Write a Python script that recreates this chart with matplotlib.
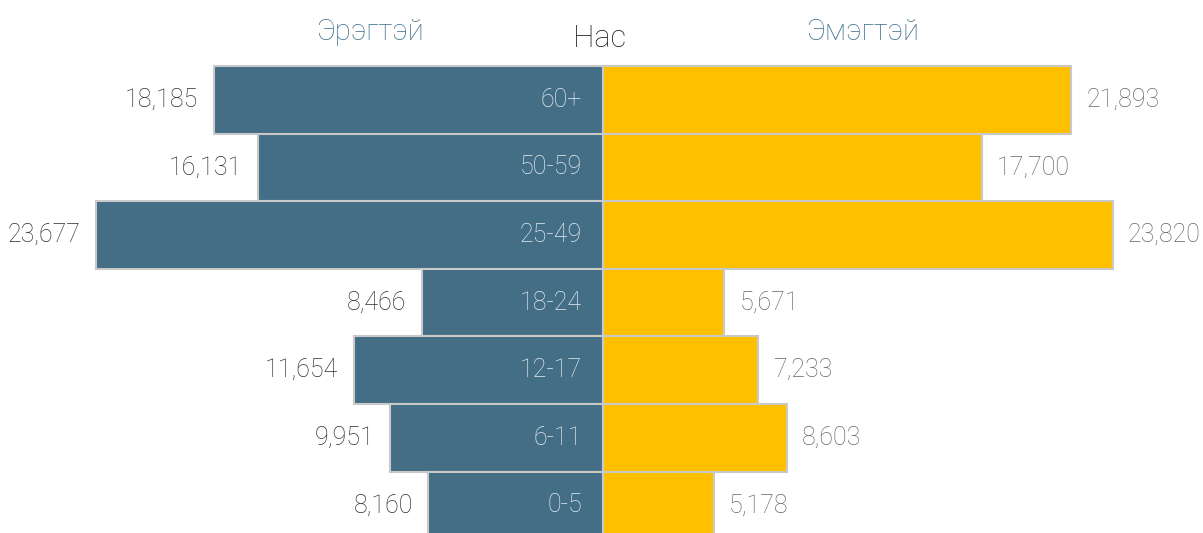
import matplotlib.pyplot as plt

age_groups = ['60+', '50-59', '25-49', '18-24', '12-17', '6-11', '0-5']
male = [18185, 16131, 23677, 8466, 11654, 9951, 8160]
female = [21893, 17700, 23820, 5671, 7233, 8603, 5178]

plt.rcParams['font.family'] = ['Roboto', 'DejaVu Sans']

fig = plt.figure(figsize=(12.03, 5.33), dpi=100)
ax = fig.add_axes([0, 0, 1, 1])

rows = list(range(len(age_groups)))
ax.barh(rows, [-m for m in male], height=1.0, color='#436e86',
        edgecolor='#c9c9c9', linewidth=1.5)
ax.barh(rows, female, height=1.0, color='#ffc000',
        edgecolor='#c9c9c9', linewidth=1.5)

for i in rows:
    ax.text(-male[i] - 720, i, f'{male[i]:,}', ha='right', va='center',
            fontsize=18, color='#2e2e2e', fontweight='light')
    ax.text(female[i] + 700, i, f'{female[i]:,}', ha='left', va='center',
            fontsize=18, color='#666666', fontweight='light')
    ax.text(-980, i, age_groups[i], ha='right', va='center',
            fontsize=18, color='#e6edf1', fontweight='light')

ax.text(-10900, -1.0, 'Эрэгтэй', ha='center', va='center', fontsize=21,
        color='#41718c', fontweight='light')
ax.text(12150, -1.0, 'Эмэгтэй', ha='center', va='center', fontsize=21,
        color='#41718c', fontweight='light')
ax.text(-150, -0.9, 'Нас', ha='center', va='center', fontsize=22,
        color='#1e1e1e', fontweight='light')

ax.set_xlim(-28180, 28040)
ax.set_ylim(6.409, -1.476)
ax.axis('off')

fig.savefig('out.png', dpi=100)
